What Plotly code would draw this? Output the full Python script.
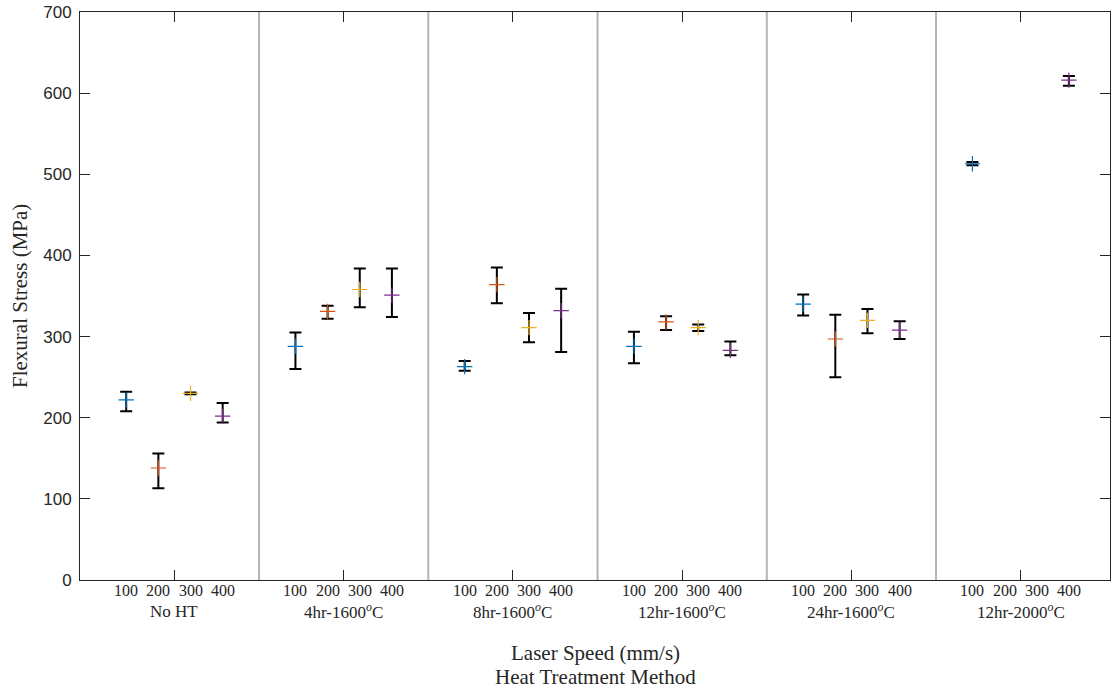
import plotly.graph_objects as go

# Heat-treatment groups and laser speeds
groups = ["No HT", "4hr-1600<sup><i>o</i></sup>C", "8hr-1600<sup><i>o</i></sup>C",
          "12hr-1600<sup><i>o</i></sup>C", "24hr-1600<sup><i>o</i></sup>C",
          "12hr-2000<sup><i>o</i></sup>C"]
speeds = ["100", "200", "300", "400"]

# Mean flexural stress (MPa) per speed, one value per group
mean_100 = [222, 288, 263, 288, 340, 513]
mean_200 = [138, 331, 364, 318, 297, None]
mean_300 = [230, 358, 311, 311, 320, None]
mean_400 = [202, 351, 332, 283, 308, 616]

# Upper / lower ends of the error bars (MPa)
upper_100 = [232, 305, 270, 306, 352, 515]
lower_100 = [208, 260, 258, 267, 326, 511]
upper_200 = [156, 338, 385, 325, 327, None]
lower_200 = [113, 322, 341, 308, 250, None]
upper_300 = [231, 384, 329, 315, 334, None]
lower_300 = [229, 336, 293, 307, 304, None]
upper_400 = [218, 384, 359, 294, 319, 621]
lower_400 = [194, 324, 281, 277, 297, 609]

series = [
    (mean_100, upper_100, lower_100, "#0072BD"),
    (mean_200, upper_200, lower_200, "#D95319"),
    (mean_300, upper_300, lower_300, "#EDB120"),
    (mean_400, upper_400, lower_400, "#7E2F8E"),
]
offsets = [-0.285, -0.095, 0.095, 0.285]

AX = "#262626"
SERIF = "Liberation Serif"

fig = go.Figure()
for (m, up, lo, col), off in zip(series, offsets):
    xs, ys, ep, em = [], [], [], []
    for g, (v, u, l) in enumerate(zip(m, up, lo), start=1):
        if v is None:
            continue
        xs.append(g + off)
        ys.append(v)
        ep.append(u - v)
        em.append(v - l)
    fig.add_trace(go.Scatter(
        x=xs, y=ys, mode="markers",
        marker=dict(symbol="cross-thin", size=11, color=col,
                    line=dict(color=col, width=1.2)),
        error_y=dict(type="data", symmetric=False, array=ep, arrayminus=em,
                     color="black", thickness=2, width=6),
        showlegend=False, hoverinfo="y",
    ))

# group separators
for g in range(1, len(groups)):
    fig.add_shape(type="line", xref="x", yref="y domain", x0=g + 0.5, x1=g + 0.5,
                  y0=0, y1=1, line=dict(color="#b4b4b4", width=2), layer="below")

ann = []
for g, name in enumerate(groups, start=1):
    for s, off in zip(speeds, offsets):
        ann.append(dict(x=g + off, y=0, xref="x", yref="paper", text=s,
                        showarrow=False, yanchor="middle", yshift=-10,
                        font=dict(family=SERIF, size=16, color=AX)))
    ann.append(dict(x=g, y=0, xref="x", yref="paper", text=name,
                    showarrow=False, yanchor="middle", yshift=-31,
                    font=dict(family=SERIF, size=17, color=AX)))

ann.append(dict(x=0.5, y=0, xref="paper", yref="paper", text="Laser Speed (mm/s)",
                showarrow=False, yanchor="middle", yshift=-73,
                font=dict(family=SERIF, size=21, color=AX)))
ann.append(dict(x=0.5, y=0, xref="paper", yref="paper", text="Heat Treatment Method",
                showarrow=False, yanchor="middle", yshift=-97,
                font=dict(family=SERIF, size=21, color=AX)))
ann.append(dict(x=0, y=0.5, xref="paper", yref="paper", text="Flexural Stress (MPa)",
                showarrow=False, textangle=-90, xanchor="center", yanchor="middle",
                xshift=-60, font=dict(family=SERIF, size=21, color=AX)))

fig.update_layout(
    width=1111, height=691,
    margin=dict(l=80, r=1, t=12, b=111),
    paper_bgcolor="white", plot_bgcolor="white",
    annotations=ann,
    xaxis=dict(range=[0.442, 6.528], tickvals=list(range(1, len(groups) + 1)),
               showticklabels=False, ticks="inside", ticklen=10,
               tickcolor=AX, showline=True, linecolor=AX, linewidth=1,
               mirror="ticks", showgrid=False, zeroline=False),
    yaxis=dict(range=[0, 700], dtick=100, ticks="inside", ticklen=10,
               tickcolor=AX, showline=True, linecolor=AX, linewidth=1,
               mirror="ticks", showgrid=False, zeroline=False,
               tickfont=dict(family="Liberation Sans", size=17, color=AX),
               ticklabelstandoff=4),
)

fig.write_html("out.html")
